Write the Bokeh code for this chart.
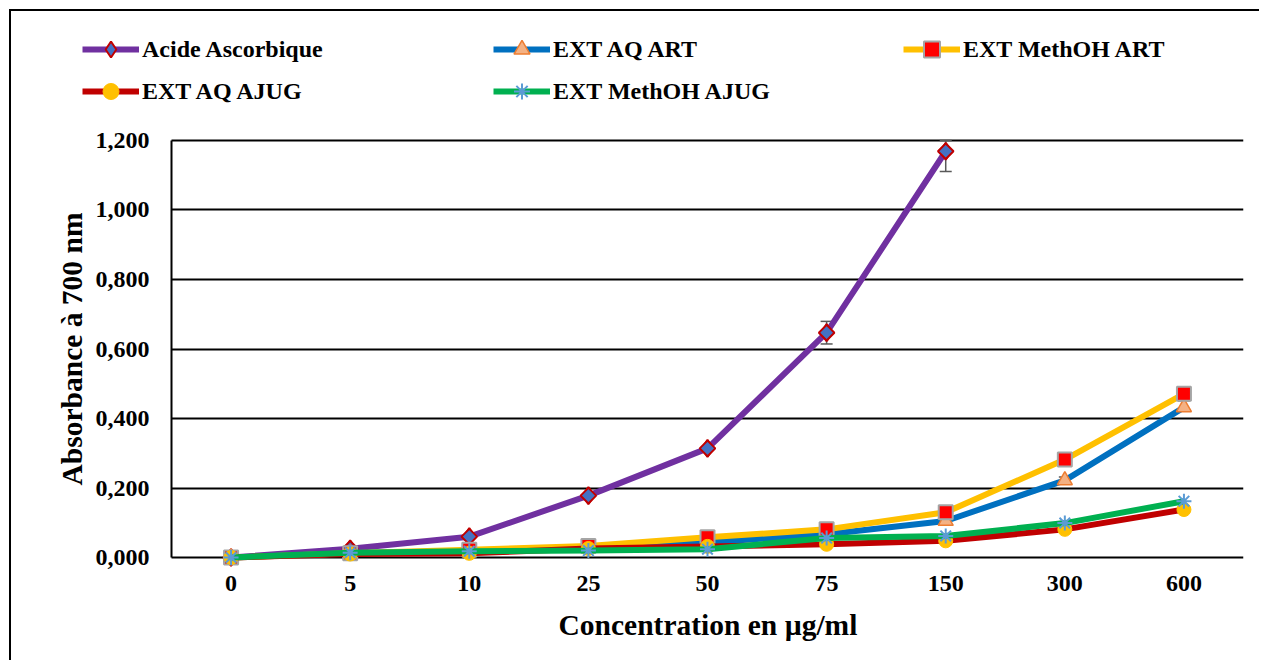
import numpy as np
from bokeh.plotting import figure
from bokeh.models import (Range1d, FixedTicker, Whisker, TeeHead, Title,
                          ColumnDataSource, Legend, LegendItem)
from bokeh.embed import file_html
from bokeh.resources import INLINE

# ---------------- data ----------------
concentrations = ["0", "5", "10", "25", "50", "75", "150", "300", "600"]
acide_ascorbique = [0.000, 0.025, 0.060, 0.178, 0.314, 0.647, 1.169]
acide_err = [0.0, 0.0, 0.0, 0.0, 0.004, 0.0325, 0.058]
ext_aq_art = [0.000, 0.012, 0.018, 0.028, 0.043, 0.067, 0.105, 0.222, 0.432]
ext_aq_art_err = [0, 0, 0, 0, 0, 0, 0, 0.010, 0.0]
ext_methoh_art = [0.000, 0.012, 0.022, 0.033, 0.058, 0.081, 0.130, 0.282, 0.471]
ext_methoh_art_err = [0, 0, 0, 0, 0, 0, 0, 0, 0.020]
ext_aq_ajug = [0.000, 0.010, 0.012, 0.026, 0.032, 0.038, 0.048, 0.081, 0.138]
ext_methoh_ajug = [0.000, 0.014, 0.018, 0.020, 0.024, 0.056, 0.062, 0.099, 0.162]
ytick_values = [0.0, 0.2, 0.4, 0.6, 0.8, 1.0, 1.2]
ytick_labels = ["0,000", "0,200", "0,400", "0,600", "0,800", "1,000", "1,200"]
y_max_axis = 1.2

FONT = "Liberation Serif"
LW = 6

# category positions on a linear scale (one unit per category)
cat_pos = list(range(len(concentrations)))
cat_lo, cat_hi = cat_pos[0] - 0.5, cat_pos[-1] + 0.5

styles_spec = {
    "Acide Ascorbique": dict(line="#7030A0", marker="square", angle=np.pi / 4, size=11,
                             fill="#4472C4", mline="#C00000", mlw=2),
    "EXT AQ ART": dict(line="#0070C0", marker="triangle", angle=0, size=15,
                       fill="#F4B183", mline="#ED7D31", mlw=1.5),
    "EXT MethOH ART": dict(line="#FFC000", marker="square", angle=0, size=14,
                           fill="#FF0000", mline="#A5A5A5", mlw=2),
    "EXT AQ AJUG": dict(line="#C00000", marker="circle", angle=0, size=14,
                        fill="#FFC000", mline="#FFC000", mlw=1),
    "EXT MethOH AJUG": dict(line="#00B050", marker="asterisk", angle=0, size=15,
                            fill=None, mline="#5B9BD5", mlw=2),
}

p = figure(width=1250, height=651,
           x_range=Range1d(cat_lo - 1.3433, cat_hi),
           y_range=Range1d(-0.0345, 1.5712), output_backend="svg",
           toolbar_location=None, title=None,
           min_border_left=0, min_border_right=18, min_border_top=0,
           min_border_bottom=93)
p.background_fill_color = "white"
p.border_fill_color = "white"
p.outline_line_color = None
p.styles = {"margin-left": "9px", "margin-top": "9px",
            "border-left": "2px solid black", "border-top": "2px solid black"}

p.xgrid.grid_line_color = None
p.ygrid.ticker = FixedTicker(ticks=ytick_values)
p.ygrid.grid_line_color = "black"
p.ygrid.grid_line_width = 2
p.ygrid.bounds = (0, y_max_axis)
p.ygrid.cross_bounds = (cat_lo, cat_hi)

p.yaxis.fixed_location = cat_lo
p.yaxis.ticker = FixedTicker(ticks=ytick_values)
p.yaxis.major_label_overrides = {v: l for v, l in zip(ytick_values, ytick_labels)}
p.yaxis.bounds = (0, y_max_axis)
p.yaxis.axis_line_color = "black"
p.yaxis.axis_line_width = 2
p.yaxis.major_tick_line_color = None
p.yaxis.minor_tick_line_color = None
p.yaxis.major_label_standoff = 16
p.yaxis.major_label_text_font = FONT
p.yaxis.major_label_text_font_style = "bold"
p.yaxis.major_label_text_font_size = "24px"
p.yaxis.major_label_text_color = "black"
p.yaxis.axis_label = "Absorbance à 700 nm"
p.yaxis.axis_label_text_font = FONT
p.yaxis.axis_label_text_font_style = "bold"
p.yaxis.axis_label_text_font_size = "29.5px"
p.yaxis.axis_label_text_color = "black"
p.yaxis.axis_label_standoff = 5

p.xaxis.ticker = FixedTicker(ticks=cat_pos)
p.xaxis.major_label_overrides = {i: c for i, c in zip(cat_pos, concentrations)}
p.xaxis.axis_line_color = None
p.xaxis.major_tick_line_color = None
p.xaxis.minor_tick_line_color = None
p.xaxis.major_label_standoff = 0
p.xaxis.major_label_text_font = FONT
p.xaxis.major_label_text_font_style = "bold"
p.xaxis.major_label_text_font_size = "24px"
p.xaxis.major_label_text_color = "black"

# x axis title, centred under the category area (not under the whole frame)
x_title = Title(text="Concentration en µg/ml", align="left", offset=547,
                text_font=FONT, text_font_size="29.5px", text_font_style="bold",
                text_color="black", standoff=26)
p.add_layout(x_title, "below")

ERR_COLOR = "#595959"


def add_err(xs, ys, errs):
    ys = np.array(ys, dtype=float)
    errs = np.array(errs, dtype=float)
    mask = errs > 0
    src = ColumnDataSource(dict(x=[x for x, m in zip(xs, mask) if m],
                                lower=list(ys[mask] - errs[mask]),
                                upper=list(np.minimum(ys[mask] + errs[mask], y_max_axis))))
    w = Whisker(source=src, base="x", lower="lower", upper="upper",
                line_color=ERR_COLOR, line_width=1.5,
                upper_head=TeeHead(size=12, line_color=ERR_COLOR, line_width=1.5),
                lower_head=TeeHead(size=12, line_color=ERR_COLOR, line_width=1.5))
    p.add_layout(w)


series = [
    ("Acide Ascorbique", cat_pos[:len(acide_ascorbique)], acide_ascorbique, acide_err),
    ("EXT AQ ART", cat_pos, ext_aq_art, ext_aq_art_err),
    ("EXT MethOH ART", cat_pos, ext_methoh_art, ext_methoh_art_err),
    ("EXT AQ AJUG", cat_pos, ext_aq_ajug, None),
    ("EXT MethOH AJUG", cat_pos, ext_methoh_ajug, None),
]
renderers = {}
for name, xs, ys, errs in series:
    s = styles_spec[name]
    src = ColumnDataSource(dict(x=xs, y=ys))
    ln = p.line("x", "y", source=src, line_color=s["line"], line_width=LW)
    if errs is not None:
        add_err(xs, ys, errs)
    extra = []
    if name == "Acide Ascorbique":
        # upright diamond (used by the legend), hidden under the rotated square
        extra = [p.scatter("x", "y", source=src, marker="diamond", size=17,
                           fill_color=s["fill"], line_color=s["mline"], line_width=2)]
    mk = p.scatter("x", "y", source=src, marker=s["marker"], angle=s["angle"],
                   size=s["size"], fill_color=s["fill"], line_color=s["mline"],
                   line_width=s["mlw"])
    renderers[name] = [ln] + (extra if extra else [mk])

columns = [
    (["Acide Ascorbique", "EXT AQ AJUG"], (71, 458)),
    (["EXT AQ ART", "EXT MethOH AJUG"], (482, 458)),
    (["EXT MethOH ART"], (892, 500)),
]
for labels, loc in columns:
    leg = Legend(items=[LegendItem(label=lab, renderers=renderers[lab]) for lab in labels],
                 location=loc, orientation="vertical",
                 glyph_width=57, glyph_height=40, label_height=40,
                 label_standoff=3, spacing=2, padding=0, margin=0,
                 border_line_color=None, background_fill_alpha=0,
                 label_text_font=FONT, label_text_font_style="bold",
                 label_text_font_size="24px", label_text_color="black")
    p.add_layout(leg, "center")

open("out.html", "w").write(file_html(p, INLINE))
